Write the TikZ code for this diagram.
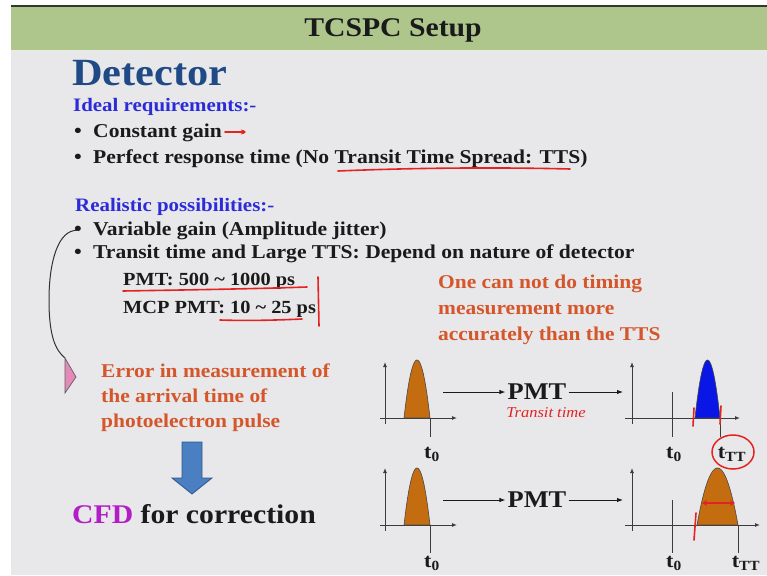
\documentclass[tikz,border=0pt]{standalone}
\usepackage{fontspec}
\setmainfont{Liberation Serif}[FakeStretch=1.1]
\usetikzlibrary{arrows.meta}

\definecolor{pagebg}{HTML}{E8E8EA}
\definecolor{bandgreen}{HTML}{AEC68C}
\definecolor{bandline}{HTML}{2E3A2A}
\definecolor{headblue}{HTML}{1F4A86}
\definecolor{subblue}{HTML}{2B2BD8}
\definecolor{noteorange}{HTML}{D4562A}
\definecolor{penred}{HTML}{E42222}
\definecolor{cfdmagenta}{HTML}{B21EC6}
\definecolor{pulseorange}{HTML}{C46C10}
\definecolor{pulseblue}{HTML}{0A16E6}
\definecolor{arrowblue}{HTML}{4A7FC1}
\definecolor{arrowedge}{HTML}{30588F}
\definecolor{tippink}{HTML}{E489B8}
\definecolor{ink}{HTML}{1A1A1A}

\tikzset{
  body/.style={anchor=base west, inner sep=0pt, text=ink,
    font=\fontsize{19.6}{24}\selectfont\bfseries},
  spanline/.style={anchor=base west, inner sep=0pt, text=ink,
    font=\fontsize{18.5}{22}\selectfont\bfseries},
  heading/.style={anchor=base west, inner sep=0pt, text=subblue,
    font=\fontsize{19}{23}\selectfont\bfseries},
  note/.style={anchor=base west, inner sep=0pt, text=noteorange,
    font=\fontsize{19.5}{24}\selectfont\bfseries},
  bulletdot/.style={anchor=base, inner sep=0pt, text=ink,
    font=\fontsize{20}{24}\selectfont\bfseries},
  pmtlabel/.style={inner sep=2pt, text=ink,
    font=\fontsize{24}{28}\selectfont\bfseries},
  tlabel/.style={anchor=base, inner sep=0pt, text=ink,
    font=\fontsize{20}{24}\selectfont\bfseries},
  axisline/.style={draw=ink!85, line width=1pt, -{Latex[length=5pt,width=4pt]}},
  tick/.style={draw=ink!85, line width=1pt},
  flow/.style={draw=ink, line width=1pt, -{Latex[length=6pt,width=4.5pt]}},
  pen/.style={draw=penred, line width=1.6pt, line cap=round},
}

\begin{document}
\begin{tikzpicture}[x=1pt, y=-1pt]
\useasboundingbox (0,0) rectangle (767,575);

% slide background and title band
\fill[white] (0,0) rectangle (767,575);
\fill[pagebg] (11,7) rectangle (767,575);
\fill[bandgreen] (11,7) rectangle (767,50);
\fill[bandline] (11,5.5) rectangle (767,7.5);
\fill[white!70!bandgreen] (11,50) rectangle (767,51.5);

\node[anchor=base, inner sep=0pt, text=ink,
  font=\fontsize{27}{31}\selectfont\bfseries] (title) at (393,37) {TCSPC Setup};

\node[anchor=base west, inner sep=0pt, text=headblue,
  font=\fontsize{38.5}{42}\selectfont\bfseries] (detector) at (72,86) {Detector};

% ideal requirements
\node[heading] (ideal) at (73,111) {Ideal requirements:-};
\node[bulletdot] (bulA) at (78,137) {•};
\node[body] (gain) at (93,137) {Constant gain};
\node[bulletdot] (bulB) at (78,163) {•};
\node[body] (resp) at (93,163) {Perfect response time (No Transit Time Spread: TTS)};

% realistic possibilities
\node[heading] (real) at (75,211) {Realistic possibilities:-};
\node[bulletdot] (bulC) at (78,235) {•};
\node[body] (vargain) at (93,235) {Variable gain (Amplitude jitter)};
\node[bulletdot] (bulD) at (78,258) {•};
\node[body] (transit) at (93,258) {Transit time and Large TTS: Depend on nature of detector};
\node[spanline] (pmtrange) at (123,285) {PMT: 500 \char`\~{} 1000 ps};
\node[spanline] (mcprange) at (123,313) {MCP PMT: 10 \char`\~{} 25 ps};

% remarks
\node[note] (remark) at (438,288) {One can not do timing};
\node[note] (remark2) at (438,314) {measurement more};
\node[note] (remark3) at (438,340) {accurately than the TTS};

\node[note] (err1) at (101,377) {Error in measurement of};
\node[note] (err2) at (101,402) {the arrival time of};
\node[note] (err3) at (101,427) {photoelectron pulse};

\node[anchor=base west, inner sep=0pt,
  font=\fontsize{27}{31}\selectfont\bfseries] (cfd) at (72,523)
  {\textcolor{cfdmagenta}{CFD} \textcolor{ink}{for correction}};

% block arrow from the error statement to the correction
\filldraw[fill=arrowblue, draw=arrowedge, line width=0.8pt, line join=miter]
  (182,442) -- (202,442) -- (202,478) -- (212,478) -- (192,494)
  -- (172,478) -- (182,478) -- cycle;

% curved pointer from the variable gain bullet to the error statement
\coordinate (tipTop) at (65,358);
\draw[draw=ink!90, line width=1pt]
  (bulC.center) .. controls (58,229) and (49,262) .. (49,300)
  .. controls (49,335) and (55,350) .. (tipTop);
\filldraw[fill=tippink, draw=ink!70, line width=0.7pt]
  (tipTop) -- (76,377) -- (65,393) -- cycle;

% pen marks
\draw[pen] (225,132) -- (240,132);
\draw[pen, -{Stealth[length=5pt,width=5pt]}] (236,132) -- (246,132);
\fill[penred] (243,132) circle (2);
\draw[pen] (338,171) .. controls (410,168) and (490,167) .. (570,169);
\draw[pen] (123,291) .. controls (180,290) and (250,289) .. (307,287);
\draw[pen] (220,320) .. controls (250,321) and (280,320) .. (302,319);
\draw[pen] (318,277) -- (319,326);

% ---- top row: PMT with transit time ----
% input pulse
\draw[axisline] (380,418) -- (457,418);
\draw[axisline] (385,424) -- (385,362);
\filldraw[fill=pulseorange, draw=ink!80, line width=0.6pt]
  plot[domain=0:1, samples=40] ({404+26*\x}, {418-58*(1-(2*\x-1)^2)}) -- cycle;
\draw[tick] (430,418) -- (430,437);
\node[tlabel] (t0a) at (432,458) {t\textsubscript{0}};

\node[pmtlabel] (pmtA) at (537,392) {PMT};
\coordinate (inA) at (443,392);
\coordinate (outA) at (623,392);
\draw[flow] (inA) -- (pmtA);
\draw[flow] (pmtA) -- (outA);
\node[anchor=center, inner sep=0pt, text=penred,
  font=\fontsize{15}{17}\selectfont\itshape] (ttnote) at (546,413) {Transit time};

% output pulse, shifted by the transit time
\draw[axisline] (625,418) -- (740,418);
\draw[axisline] (632,424) -- (632,362);
\filldraw[fill=pulseblue, draw=ink!80, line width=0.6pt]
  plot[domain=0:1, samples=40] ({695+25*\x}, {418-58*(1-(2*\x-1)^2)}) -- cycle;
\draw[tick] (672,392) -- (672,437);
\draw[tick] (720,418) -- (720,437);
\node[tlabel] (t0b) at (674,458) {t\textsubscript{0}};
\node[tlabel] (ttA) at (732,458) {t\textsubscript{TT}};
\draw[pen] (694,408) -- (693,426);
\draw[pen] (721,406) -- (720,424);
\draw[draw=penred, line width=1.5pt] (733,452) ellipse [x radius=21, y radius=17];

% ---- bottom row: PMT with transit time spread ----
\draw[axisline] (380,525) -- (457,525);
\draw[axisline] (385,531) -- (385,468);
\filldraw[fill=pulseorange, draw=ink!80, line width=0.6pt]
  plot[domain=0:1, samples=40] ({404+26*\x}, {525-57*(1-(2*\x-1)^2)}) -- cycle;
\draw[tick] (430,525) -- (430,553);
\node[tlabel] (t0c) at (432,567) {t\textsubscript{0}};

\node[pmtlabel] (pmtB) at (537,500) {PMT};
\coordinate (inB) at (443,500);
\coordinate (outB) at (623,500);
\draw[flow] (inB) -- (pmtB);
\draw[flow] (pmtB) -- (outB);

\draw[axisline] (625,525) -- (760,525);
\draw[axisline] (632,531) -- (632,468);
\filldraw[fill=pulseorange, draw=ink!80, line width=0.6pt]
  plot[domain=0:1, samples=40] ({697+41*\x}, {525-57*(1-(2*\x-1)^2)}) -- cycle;
\draw[tick] (672,500) -- (672,553);
\draw[tick] (738,525) -- (738,553);
\node[tlabel] (t0d) at (674,567) {t\textsubscript{0}};
\node[tlabel] (ttB) at (746,567) {t\textsubscript{TT}};
\draw[pen, {Stealth[length=5pt,width=6pt]}-{Stealth[length=5pt,width=6pt]}]
  (702,503) -- (735,503);
\draw[pen] (696,513) -- (694,540);

\end{tikzpicture}
\end{document}
